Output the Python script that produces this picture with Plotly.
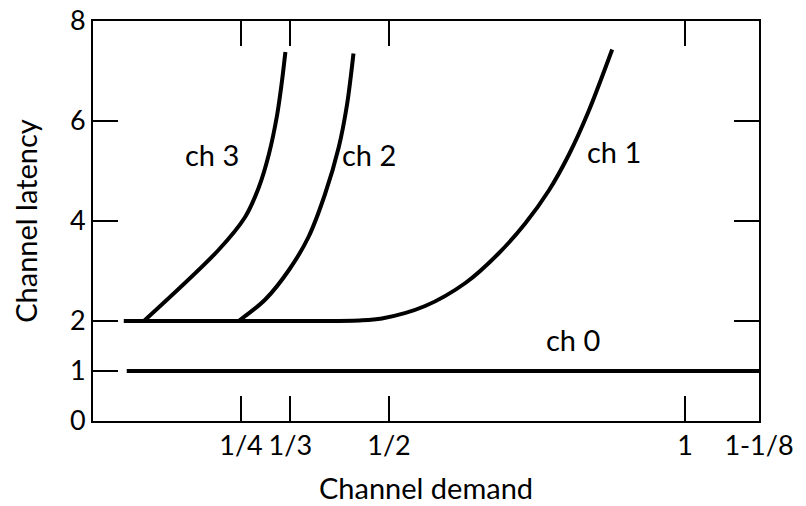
import plotly.graph_objects as go

# ---- data ----
ch0_x = [0.057, 1.125]
ch0_y = [1.0, 1.0]

ch1_x = [0.052, 0.20, 0.35, 0.45, 0.488, 0.561, 0.629, 0.685, 0.730, 0.770, 0.804, 0.837, 0.877]
ch1_y = [2.0, 2.0, 2.0, 2.01, 2.05, 2.30, 2.76, 3.35, 3.95, 4.61, 5.33, 6.19, 7.43]

ch2_x = [0.246, 0.291, 0.331, 0.364, 0.392, 0.415, 0.429, 0.440]
ch2_y = [2.0, 2.43, 3.02, 3.68, 4.54, 5.47, 6.32, 7.35]

ch3_x = [0.086, 0.212, 0.257, 0.280, 0.297, 0.311, 0.319, 0.325]
ch3_y = [2.0, 3.42, 4.08, 4.67, 5.33, 6.12, 6.78, 7.38]

x_tick_vals = [0.25, 1/3, 0.5, 1.0, 1.125]
x_tick_text = ["1/4", "1/3", "1/2", "1", "1-1/8"]
x_top_ticks = [0.25, 1/3, 0.5, 1.0]
y_tick_vals = [0, 1, 2, 4, 6, 8]
y_tick_text = ["0", "1", "2", "4", "6", "8"]
y_right_ticks = [2, 4, 6]

labels = ["ch 3", "ch 2", "ch 1", "ch 0"]
label_x = [0.250, 0.418, 0.831, 0.811]
label_y = [5.33, 5.33, 5.40, 1.64]
label_anchor = ["right", "left", "left", "center"]

FONT = "Lato"
FS = 29
TFS = 27

fig = go.Figure()
for xs, ys in [(ch0_x, ch0_y), (ch1_x, ch1_y), (ch2_x, ch2_y), (ch3_x, ch3_y)]:
    fig.add_trace(go.Scatter(x=xs, y=ys, mode="lines",
                             line=dict(color="black", width=4, shape="spline", smoothing=0.9),
                             hoverinfo="skip", showlegend=False))

# invisible trace to show top / right tick axes
fig.add_trace(go.Scatter(x=ch0_x, y=ch0_y, xaxis="x2", yaxis="y2", mode="lines",
                         line=dict(color="rgba(0,0,0,0)"), hoverinfo="skip", showlegend=False))

for t, xx, yy, a in zip(labels, label_x, label_y, label_anchor):
    fig.add_annotation(x=xx, y=yy, text=t, showarrow=False, xanchor=a, yanchor="middle",
                       font=dict(family=FONT, size=FS, color="black"))

axis_common = dict(ticks="inside", ticklen=25, tickwidth=2, tickcolor="black",
                   showline=True, linewidth=2, linecolor="black", showgrid=False,
                   zeroline=False, automargin=False, tickfont=dict(size=TFS),
                   ticklabeloverflow="allow")

fig.update_layout(
    width=806, height=506,
    margin=dict(l=93, r=47, t=21, b=85),
    plot_bgcolor="white", paper_bgcolor="white",
    font=dict(family=FONT, size=FS, color="black"),
    xaxis=dict(range=[0, 1.125], tickmode="array", tickvals=x_tick_vals, ticktext=x_tick_text,
               title=dict(text="Channel demand", standoff=18, font=dict(size=FS)),
               **axis_common),
    yaxis=dict(range=[0, 8], tickmode="array", tickvals=y_tick_vals, ticktext=y_tick_text,
               title=dict(text="Channel latency", standoff=24, font=dict(size=FS)),
               **axis_common),
    xaxis2=dict(range=[0, 1.125], overlaying="x", side="top", anchor="y", tickmode="array",
                tickvals=x_top_ticks, showticklabels=False, **axis_common),
    yaxis2=dict(range=[0, 8], overlaying="y", side="right", anchor="x", tickmode="array",
                tickvals=y_right_ticks, showticklabels=False, **axis_common),
)

fig.write_html("out.html", config={"displayModeBar": False},
               post_script="document.body.style.margin='0';document.body.style.overflow='hidden';")
